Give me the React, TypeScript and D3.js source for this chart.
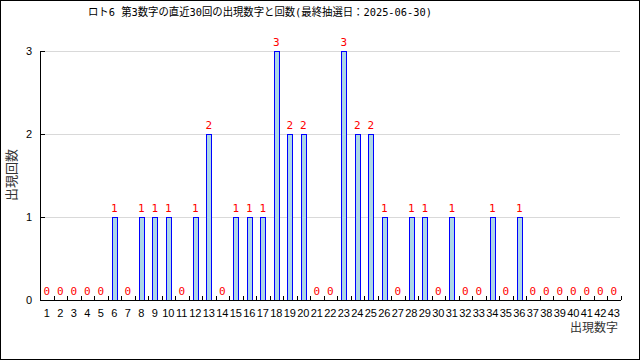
import React from "react";
import * as d3 from "d3";

const numbers: number[] = d3.range(1, 44);
const counts: number[] = [
  0, 0, 0, 0, 0, 1, 0, 1, 1, 1,
  0, 1, 2, 0, 1, 1, 1, 3, 2, 2,
  0, 0, 3, 2, 2, 1, 0, 1, 1, 0,
  1, 0, 0, 1, 0, 1, 0, 0, 0, 0,
  0, 0, 0,
];
const yTicks: number[] = [0, 1, 2, 3];
const titleText = "ロト6 第3数字の直近30回の出現数字と回数(最終抽選日：2025-06-30)";
const xLabel = "出現数字";
const yLabel = "出現回数";

const W = 640;
const H = 360;
const left = 40;
const right = 620.5;
const top = 51;
const bottom = 300;

export default function App() {
  const x = d3.scaleBand<number>().domain(numbers).range([left, right]).padding(0);
  const y = d3.scaleLinear().domain([0, 3]).range([bottom, top]);
  const bw = 5;
  const mono = "'DejaVu Sans Mono', 'Noto Sans CJK JP', monospace";
  const sans = "'Liberation Sans', 'Noto Sans CJK JP', sans-serif";
  const cjk = "'Noto Sans CJK JP', sans-serif";
  return (
    <svg width={W} height={H} style={{ position: "absolute", left: 0, top: 0, display: "block" }}>
      <rect x={0.5} y={0.5} width={W - 1} height={H - 1} fill="#fff" stroke="#000" strokeWidth={1} />
      <text x={260} y={16} textAnchor="middle" fontFamily={mono} fontSize={11} fill="#000"
        textLength={344} lengthAdjust="spacingAndGlyphs">
        {titleText}
      </text>
      {yTicks.filter((t) => t > 0).map((t) => (
        <line key={"g" + t} x1={left} x2={620} y1={Math.round(y(t)) + 0.5} y2={Math.round(y(t)) + 0.5} stroke="#d9d9d9" strokeWidth={1} />
      ))}
      {yTicks.map((t) => (
        <g key={"yt" + t}>
          <line x1={left} x2={left + 5} y1={Math.round(y(t)) + 0.5} y2={Math.round(y(t)) + 0.5} stroke="#000" />
          <text x={32} y={y(t) + 4} textAnchor="end" fontFamily={sans} fontSize={11} fill="#000">{t}</text>
        </g>
      ))}
      {numbers.map((n, i) => {
        const v = counts[i];
        const cx = (x(n) as number) + x.bandwidth() / 2;
        return (
          <g key={"b" + n}>
            {v > 0 && (
              <rect x={Math.round(cx - bw / 2) + 0.5} y={Math.round(y(v)) + 0.5} width={bw} height={bottom - Math.round(y(v))}
                fill="#add8e6" stroke="#0000ff" strokeWidth={1} />
            )}
            <text x={cx} y={y(v) - 5} textAnchor="middle" fontFamily={mono} fontSize={11} fill="#ff0000">{v}</text>
            <text x={cx} y={317} textAnchor="middle" fontFamily={sans} fontSize={11} fill="#000">{n}</text>
            <line x1={Math.round((x(n) as number) + x.bandwidth()) + 0.5} x2={Math.round((x(n) as number) + x.bandwidth()) + 0.5}
              y1={bottom} y2={bottom - 4} stroke="#000" />
          </g>
        );
      })}
      <line x1={left + 0.5} x2={left + 0.5} y1={top} y2={bottom + 0.5} stroke="#000" />
      <line x1={left} x2={621} y1={bottom + 0.5} y2={bottom + 0.5} stroke="#000" />
      <text x={618} y={332} textAnchor="end" fontFamily={cjk} fontSize={12} fill="#333">{xLabel}</text>
      <text transform={`translate(16,175) rotate(-90)`} textAnchor="middle" fontFamily={cjk} fontSize={13} fill="#333">{yLabel}</text>
    </svg>
  );
}
